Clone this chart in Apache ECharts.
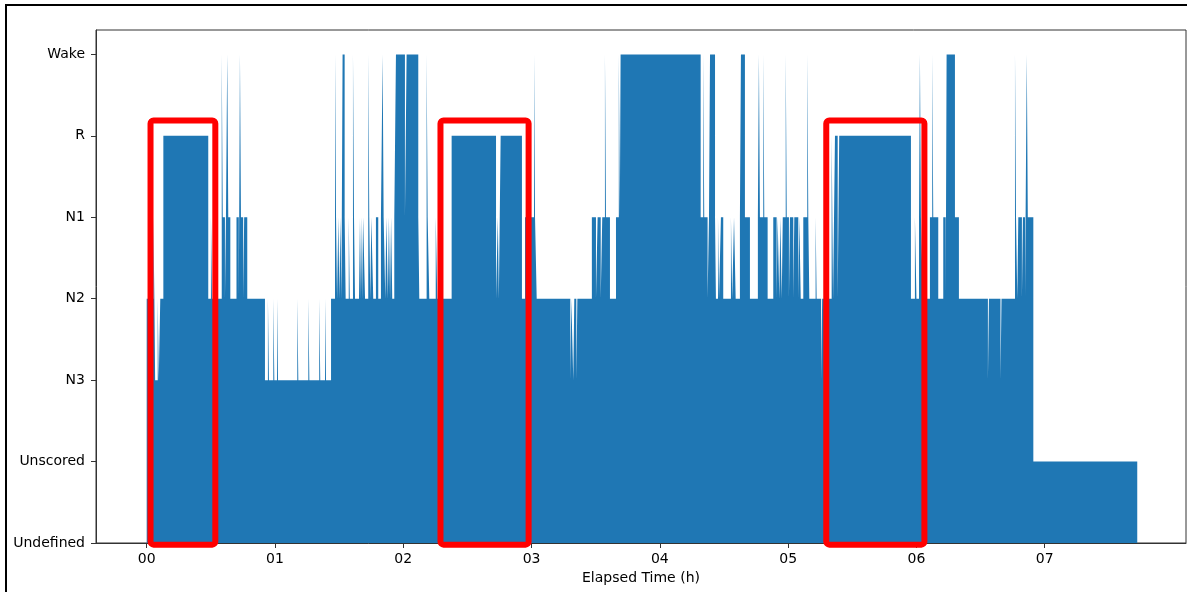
<!DOCTYPE html>
<html>
<head>
<meta charset="utf-8">
<script src="https://cdn.jsdelivr.net/npm/echarts@6/dist/echarts.min.js"></script>
<style>
  html, body { margin: 0; padding: 0; background: #fff; }
  #hypnogram { width: 1187px; height: 592px; }
</style>
</head>
<body>
<div id="hypnogram"></div>
<script>
// sleep stages, bottom to top of the y axis
var stageNames = ['Undefined', 'Unscored', 'N3', 'N2', 'N1', 'R', 'Wake'];
var hourTicks = [0, 1, 2, 3, 4, 5, 6, 7];
var hourLabels = ['00', '01', '02', '03', '04', '05', '06', '07'];

// start of each scored run (elapsed hours) and its stage
var runStart = [
  0.000, 0.052, 0.060, 0.066, 0.086, 0.094, 0.106, 0.130, 0.480, 0.501,
  0.509, 0.585, 0.593, 0.610, 0.618, 0.628, 0.636, 0.652, 0.700, 0.718,
  0.727, 0.735, 0.752, 0.760, 0.784, 0.922, 0.945, 0.953, 0.987, 0.995,
  1.016, 1.024, 1.174, 1.182, 1.260, 1.268, 1.345, 1.353, 1.390, 1.398,
  1.437, 1.468, 1.476, 1.484, 1.494, 1.502, 1.510, 1.518, 1.527, 1.543,
  1.551, 1.575, 1.583, 1.608, 1.616, 1.624, 1.655, 1.663, 1.671, 1.679,
  1.687, 1.702, 1.727, 1.735, 1.743, 1.751, 1.766, 1.787, 1.805, 1.826,
  1.839, 1.847, 1.860, 1.868, 1.880, 1.888, 1.897, 1.905, 1.914, 1.930,
  1.943, 2.013, 2.026, 2.117, 2.125, 2.182, 2.190, 2.203, 2.253, 2.265,
  2.377, 2.723, 2.737, 2.745, 2.759, 2.925, 2.949, 3.019, 3.027, 3.040,
  3.302, 3.310, 3.325, 3.333, 3.349, 3.357, 3.470, 3.502, 3.515, 3.539,
  3.551, 3.572, 3.580, 3.611, 3.658, 3.680, 3.688, 3.694, 4.318, 4.338,
  4.346, 4.372, 4.383, 4.391, 4.430, 4.437, 4.453, 4.461, 4.476, 4.494,
  4.554, 4.564, 4.578, 4.591, 4.624, 4.632, 4.663, 4.702, 4.764, 4.772,
  4.780, 4.806, 4.814, 4.840, 4.884, 4.910, 4.918, 4.931, 4.939, 4.950,
  4.958, 4.981, 4.989, 5.006, 5.014, 5.040, 5.048, 5.079, 5.087, 5.098,
  5.118, 5.149, 5.157, 5.165, 5.214, 5.222, 5.257, 5.265, 5.339, 5.350,
  5.365, 5.386, 5.398, 5.957, 5.988, 6.000, 6.020, 6.027, 6.035, 6.050,
  6.105, 6.123, 6.131, 6.170, 6.209, 6.228, 6.235, 6.300, 6.331, 6.557,
  6.565, 6.655, 6.663, 6.768, 6.776, 6.786, 6.794, 6.822, 6.830, 6.846,
  6.860, 6.868, 6.911
];
var runStage = [
  'N2', 'N1', 'N2', 'N3', 'N2', 'N3', 'N2', 'R', 'N2', 'N1',
  'N2', 'Wake', 'N1', 'N2', 'N1', 'Wake', 'N1', 'N2', 'N1', 'N2',
  'Wake', 'N1', 'N2', 'N1', 'N2', 'N3', 'N2', 'N3', 'N2', 'N3',
  'N2', 'N3', 'N2', 'N3', 'N2', 'N3', 'N2', 'N3', 'N2', 'N3',
  'N2', 'Wake', 'N1', 'N2', 'N1', 'N2', 'N1', 'N2', 'Wake', 'N1',
  'N2', 'N1', 'N2', 'Wake', 'N1', 'N2', 'N1', 'N2', 'N1', 'N2',
  'N1', 'N2', 'Wake', 'N1', 'N2', 'N1', 'N2', 'N1', 'N2', 'N1',
  'Wake', 'N1', 'N2', 'N1', 'N2', 'N1', 'N2', 'N1', 'N2', 'N1',
  'Wake', 'N1', 'Wake', 'N1', 'N2', 'Wake', 'N1', 'N2', 'N1', 'N2',
  'R', 'N2', 'N1', 'N2', 'R', 'N2', 'N1', 'Wake', 'N1', 'N2',
  'N3', 'N2', 'N3', 'N2', 'N3', 'N2', 'N1', 'N2', 'N1', 'N2',
  'N1', 'Wake', 'N1', 'N2', 'N1', 'Wake', 'N1', 'Wake', 'N1', 'Wake',
  'N1', 'N2', 'N1', 'Wake', 'N1', 'N2', 'N1', 'N2', 'N1', 'N2',
  'N1', 'N2', 'N1', 'N2', 'N1', 'Wake', 'N1', 'N2', 'N1', 'Wake',
  'N1', 'Wake', 'N1', 'N2', 'N1', 'N2', 'N1', 'N2', 'N1', 'N2',
  'N1', 'Wake', 'N1', 'N2', 'N1', 'N2', 'N1', 'N2', 'N1', 'N2',
  'N1', 'Wake', 'N1', 'N2', 'N1', 'N2', 'N3', 'N2', 'R', 'N2',
  'R', 'N2', 'R', 'N2', 'N1', 'N2', 'N1', 'Wake', 'N1', 'N2',
  'N1', 'Wake', 'N1', 'N2', 'N1', 'N2', 'Wake', 'N1', 'N2', 'N3',
  'N2', 'N3', 'N2', 'Wake', 'N1', 'N2', 'N1', 'N2', 'N1', 'N2',
  'Wake', 'N1', 'Unscored'
];
var recordingEnd = 7.721;

// red highlight boxes around the REM periods (hours / stage units)
var remBoxStart = [0.030, 2.290, 5.297];
var remBoxEnd = [0.535, 2.977, 6.062];
var remBoxTop = 5.19;
var remBoxBottom = -0.02;

var chart = echarts.init(document.getElementById('hypnogram'));

// each run becomes a flat top from its start to the next run's start
var steps = [];
runStart.forEach(function (t, i) {
  var level = stageNames.indexOf(runStage[i]);
  var next = i + 1 < runStart.length ? runStart[i + 1] : recordingEnd;
  steps.push([t, level]);
  steps.push([next, level]);
});

var axisColor = '#333';
var font = 'DejaVu Sans';

chart.setOption({
  animation: false,
  backgroundColor: '#fff',
  textStyle: { fontFamily: font },
  grid: {
    left: 96, right: 1, top: 30, bottom: 49,
    show: true, borderColor: axisColor, borderWidth: 1,
    containLabel: false, outerBoundsMode: 'none'
  },
  xAxis: {
    type: 'value',
    min: -0.395,
    max: 8.101,
    name: 'Elapsed Time (h)',
    nameLocation: 'middle',
    nameGap: 28,
    nameTextStyle: { color: '#000', fontSize: 14, fontFamily: font },
    axisLine: { onZero: false, lineStyle: { color: axisColor, width: 1 } },
    axisTick: { show: true, length: 5, lineStyle: { color: axisColor }, customValues: hourTicks },
    axisLabel: {
      color: '#000', fontSize: 14, margin: 9, customValues: hourTicks,
      formatter: function (v) { return hourLabels[hourTicks.indexOf(v)]; }
    },
    splitLine: { show: false }
  },
  yAxis: {
    type: 'value',
    min: 0,
    max: 6.3,
    axisLine: { show: true, onZero: false, lineStyle: { color: axisColor, width: 1 } },
    axisTick: { show: true, length: 5, lineStyle: { color: axisColor }, customValues: [0, 1, 2, 3, 4, 5, 6] },
    axisLabel: {
      color: '#000', fontSize: 14, margin: 11, customValues: [0, 1, 2, 3, 4, 5, 6],
      formatter: function (v) { return stageNames[v]; }
    },
    splitLine: { show: false }
  },
  series: [{
    type: 'line',
    data: steps,
    showSymbol: false,
    sampling: null,
    lineStyle: { width: 0, opacity: 0 },
    areaStyle: { color: '#1f77b4', opacity: 1 },
    itemStyle: { color: '#1f77b4' },
    silent: true
  }]
});

// boxes and the outer frame of the figure
var boxes = remBoxStart.map(function (s, i) {
  var p0 = chart.convertToPixel({ gridIndex: 0 }, [s, remBoxTop]);
  var p1 = chart.convertToPixel({ gridIndex: 0 }, [remBoxEnd[i], remBoxBottom]);
  return {
    type: 'rect',
    z: 100,
    shape: { x: p0[0], y: p0[1], width: p1[0] - p0[0], height: p1[1] - p0[1], r: 3 },
    style: { fill: 'rgba(0,0,0,0)', stroke: '#ff0000', lineWidth: 6 }
  };
});
boxes.push({
  type: 'line', z: 100,
  shape: { x1: 6, y1: 4, x2: 6, y2: 592 },
  style: { stroke: '#000', lineWidth: 2 }
});
boxes.push({
  type: 'line', z: 100,
  shape: { x1: 5, y1: 5, x2: 1187, y2: 5 },
  style: { stroke: '#000', lineWidth: 2 }
});
chart.setOption({ graphic: boxes });
</script>
</body>
</html>
